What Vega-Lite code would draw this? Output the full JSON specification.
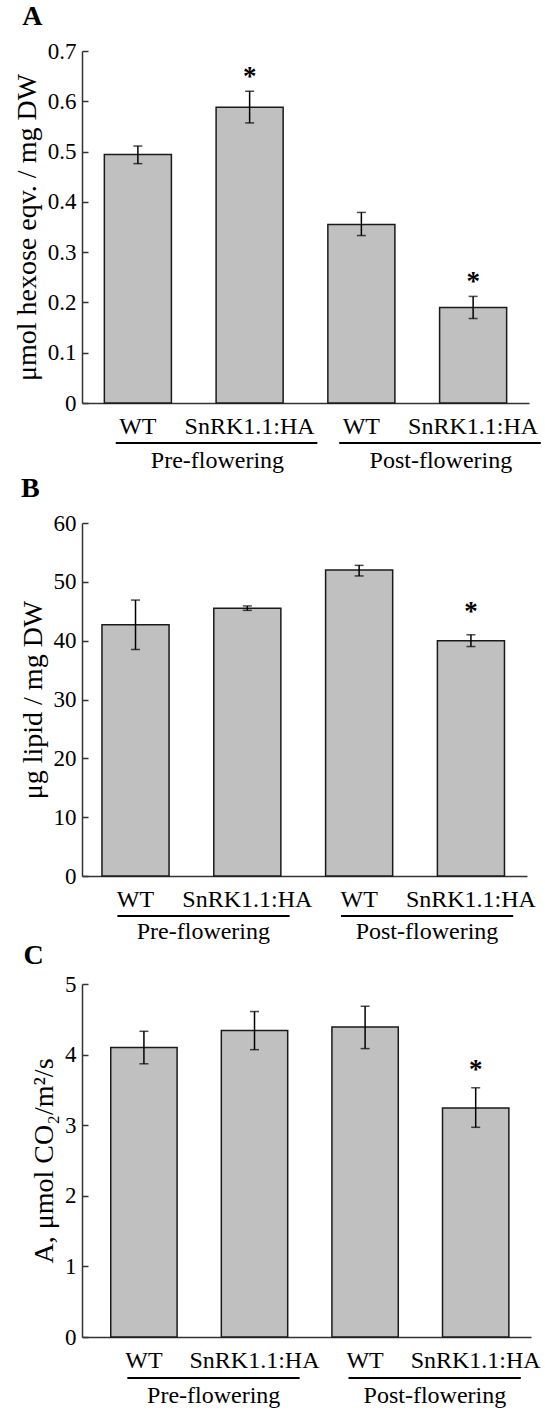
{
  "$schema": "https://vega.github.io/schema/vega-lite/v6.json",
  "padding": {"top": 3, "left": 13, "right": 0, "bottom": 0},
  "datasets": {
    "groups": [
      {"group": "Pre-flowering", "first": "Pre|WT", "last": "Pre|SnRK1.1:HA"},
      {"group": "Post-flowering", "first": "Post|WT", "last": "Post|SnRK1.1:HA"}
    ]
  },
  "config": {
    "font": "Liberation Serif",
    "view": {"stroke": null},
    "text": {"font": "Liberation Serif"},
    "title": {"font": "Liberation Serif"},
    "axis": {"grid": false, "labelFont": "Liberation Serif", "titleFont": "Liberation Serif", "labelColor": "#000", "titleColor": "#000", "domainColor": "#333", "tickColor": "#333", "domainWidth": 1.5, "tickWidth": 1.5}
  },
  "bounds": "flush",
  "spacing": 120,
  "vconcat": [
    {
      "width": 447, "height": 352,
      "title": {"text": "A", "anchor": "start", "frame": "bounds", "font": "Liberation Serif", "fontSize": 28, "fontWeight": "bold", "color": "#000", "offset": 9, "dx": 9},
      "data": {"values": [
        {"id": "Pre|WT", "value": 0.494, "lower": 0.476, "upper": 0.511, "sig": ""},
        {"id": "Pre|SnRK1.1:HA", "value": 0.588, "lower": 0.557, "upper": 0.620, "sig": "*"},
        {"id": "Post|WT", "value": 0.355, "lower": 0.333, "upper": 0.379, "sig": ""},
        {"id": "Post|SnRK1.1:HA", "value": 0.190, "lower": 0.168, "upper": 0.212, "sig": "*"}
      ]},
      "encoding": {
        "x": {"field": "id", "type": "nominal",
          "scale": {"domain": ["Pre|WT", "Pre|SnRK1.1:HA", "Post|WT", "Post|SnRK1.1:HA"], "paddingInner": 0.4, "paddingOuter": 0.2},
          "axis": {"title": null, "ticks": false, "labelAngle": 0, "labelFontSize": 24, "labelBaseline": "alphabetic", "labelPadding": 30.5, "labelOverlap": false, "labelExpr": "split(datum.value, '|')[1]"}}
      },
      "layer": [
        {"mark": {"type": "bar", "fill": "#c0c0c0", "stroke": "#1a1a1a", "strokeWidth": 1.5},
         "encoding": {"y": {"field": "value", "type": "quantitative", "title": "μmol hexose eqv. / mg DW", "scale": {"domain": [0, 0.7], "nice": false},
           "axis": {"title": "μmol hexose eqv. / mg DW", "values": [0, 0.1, 0.2, 0.3, 0.4, 0.5, 0.6, 0.7], "format": ".1~f", "tickSize": -6, "labelFontSize": 23, "labelPadding": 12, "titleFontSize": 28, "titleFontWeight": "normal", "titlePadding": 6}}}},
        {"mark": {"type": "errorbar", "ticks": true, "size": 9, "thickness": 1.5, "color": "#000"},
         "encoding": {"y": {"field": "lower", "type": "quantitative", "title": "μmol hexose eqv. / mg DW"}, "y2": {"field": "upper"}}},
        {"mark": {"type": "text", "font": "Liberation Serif", "fontSize": 27, "fontWeight": "bold", "baseline": "alphabetic", "dy": -6, "color": "#000"},
         "encoding": {"y": {"field": "upper", "type": "quantitative", "title": "μmol hexose eqv. / mg DW"}, "text": {"field": "sig"}}},
        {"data": {"name": "groups"},
         "mark": {"type": "rule", "strokeWidth": 2, "color": "#000", "yOffset": 40},
         "encoding": {"x": {"field": "first", "type": "nominal", "bandPosition": 0.17}, "x2": {"field": "last", "bandPosition": 1.51}, "y": {"datum": 0}}},
        {"data": {"name": "groups"},
         "mark": {"type": "text", "font": "Liberation Serif", "fontSize": 24, "baseline": "alphabetic", "align": "center", "dy": 64.6, "color": "#000"},
         "encoding": {"x": {"field": "last", "type": "nominal", "bandPosition": 0.02}, "y": {"datum": 0}, "text": {"field": "group"}}}
      ]
    },
    {
      "bounds": "flush",
      "spacing": 108,
      "vconcat": [
        {
          "width": 445, "height": 353,
          "title": {"text": "B", "anchor": "start", "frame": "bounds", "font": "Liberation Serif", "fontSize": 28, "fontWeight": "bold", "color": "#000", "offset": 9, "dx": 2},
          "data": {"values": [
            {"id": "Pre|WT", "value": 42.7, "lower": 38.5, "upper": 46.9, "sig": ""},
            {"id": "Pre|SnRK1.1:HA", "value": 45.5, "lower": 45.15, "upper": 45.9, "sig": ""},
            {"id": "Post|WT", "value": 52.0, "lower": 51.0, "upper": 52.8, "sig": ""},
            {"id": "Post|SnRK1.1:HA", "value": 40.0, "lower": 39.0, "upper": 41.0, "sig": "*"}
          ]},
          "encoding": {
            "x": {"field": "id", "type": "nominal",
              "scale": {"domain": ["Pre|WT", "Pre|SnRK1.1:HA", "Post|WT", "Post|SnRK1.1:HA"], "paddingInner": 0.4, "paddingOuter": 0.19, "align": 0.47},
              "axis": {"title": null, "ticks": false, "labelAngle": 0, "labelFontSize": 24, "labelBaseline": "alphabetic", "labelPadding": 30.5, "labelOverlap": false, "labelExpr": "split(datum.value, '|')[1]"}}
          },
          "layer": [
            {"mark": {"type": "bar", "fill": "#c0c0c0", "stroke": "#1a1a1a", "strokeWidth": 1.5},
             "encoding": {"y": {"field": "value", "type": "quantitative", "title": "μg lipid / mg DW", "scale": {"domain": [0, 60], "nice": false},
               "axis": {"title": "μg lipid / mg DW", "values": [0, 10, 20, 30, 40, 50, 60], "format": "d", "tickSize": -6, "labelFontSize": 23, "labelPadding": 12, "titleFontSize": 28, "titleFontWeight": "normal", "titlePadding": 6}}}},
            {"mark": {"type": "errorbar", "ticks": true, "size": 9, "thickness": 1.5, "color": "#000"},
             "encoding": {"y": {"field": "lower", "type": "quantitative", "title": "μg lipid / mg DW"}, "y2": {"field": "upper"}}},
            {"mark": {"type": "text", "font": "Liberation Serif", "fontSize": 27, "fontWeight": "bold", "baseline": "alphabetic", "dy": -15, "color": "#000"},
             "encoding": {"y": {"field": "upper", "type": "quantitative", "title": "μg lipid / mg DW"}, "text": {"field": "sig"}}},
            {"data": {"name": "groups"},
             "mark": {"type": "rule", "strokeWidth": 2, "color": "#000", "yOffset": 40},
             "encoding": {"x": {"field": "first", "type": "nominal", "bandPosition": 0.23}, "x2": {"field": "last", "bandPosition": 1.13}, "y": {"datum": 0}}},
            {"data": {"name": "groups"},
             "mark": {"type": "text", "font": "Liberation Serif", "fontSize": 24, "baseline": "alphabetic", "align": "center", "dy": 63, "color": "#000"},
             "encoding": {"x": {"field": "last", "type": "nominal", "bandPosition": -0.155}, "y": {"datum": 0}, "text": {"field": "group"}}}
          ]
        },
        {
          "width": 449, "height": 353,
          "title": {"text": "C", "anchor": "start", "frame": "bounds", "font": "Liberation Serif", "fontSize": 28, "fontWeight": "bold", "color": "#000", "offset": 3, "dx": -7},
          "data": {"values": [
            {"id": "Pre|WT", "value": 4.10, "lower": 3.87, "upper": 4.33, "sig": ""},
            {"id": "Pre|SnRK1.1:HA", "value": 4.34, "lower": 4.07, "upper": 4.61, "sig": ""},
            {"id": "Post|WT", "value": 4.39, "lower": 4.085, "upper": 4.685, "sig": ""},
            {"id": "Post|SnRK1.1:HA", "value": 3.245, "lower": 2.97, "upper": 3.53, "sig": "*"}
          ]},
          "encoding": {
            "x": {"field": "id", "type": "nominal",
              "scale": {"domain": ["Pre|WT", "Pre|SnRK1.1:HA", "Post|WT", "Post|SnRK1.1:HA"], "paddingInner": 0.4, "paddingOuter": 0.23, "align": 0.565},
              "axis": {"title": null, "ticks": false, "labelAngle": 0, "labelFontSize": 24, "labelBaseline": "alphabetic", "labelPadding": 30.5, "labelOverlap": false, "labelExpr": "split(datum.value, '|')[1]"}}
          },
          "layer": [
            {"mark": {"type": "bar", "fill": "#c0c0c0", "stroke": "#1a1a1a", "strokeWidth": 1.5},
             "encoding": {"y": {"field": "value", "type": "quantitative", "title": "A, μmol CO₂/m²/s", "scale": {"domain": [0, 5], "nice": false},
               "axis": {"title": "A, μmol CO₂/m²/s", "values": [0, 1, 2, 3, 4, 5], "format": "d", "tickSize": -6, "labelFontSize": 23, "labelPadding": 12, "titleFontSize": 28, "titleFontWeight": "normal", "titlePadding": 6}}}},
            {"mark": {"type": "errorbar", "ticks": true, "size": 9, "thickness": 1.5, "color": "#000"},
             "encoding": {"y": {"field": "lower", "type": "quantitative", "title": "A, μmol CO₂/m²/s"}, "y2": {"field": "upper"}}},
            {"mark": {"type": "text", "font": "Liberation Serif", "fontSize": 27, "fontWeight": "bold", "baseline": "alphabetic", "dy": -10, "color": "#000"},
             "encoding": {"y": {"field": "upper", "type": "quantitative", "title": "A, μmol CO₂/m²/s"}, "text": {"field": "sig"}}},
            {"data": {"name": "groups"},
             "mark": {"type": "rule", "strokeWidth": 2, "color": "#000", "yOffset": 41},
             "encoding": {"x": {"field": "first", "type": "nominal", "bandPosition": 0.25}, "x2": {"field": "last", "bandPosition": 1.18}, "y": {"datum": 0}}},
            {"data": {"name": "groups"},
             "mark": {"type": "text", "font": "Liberation Serif", "fontSize": 24, "baseline": "alphabetic", "align": "center", "dy": 66, "color": "#000"},
             "encoding": {"x": {"field": "last", "type": "nominal", "bandPosition": -0.115}, "y": {"datum": 0}, "text": {"field": "group"}}}
          ]
        }
      ]
    }
  ]
}
